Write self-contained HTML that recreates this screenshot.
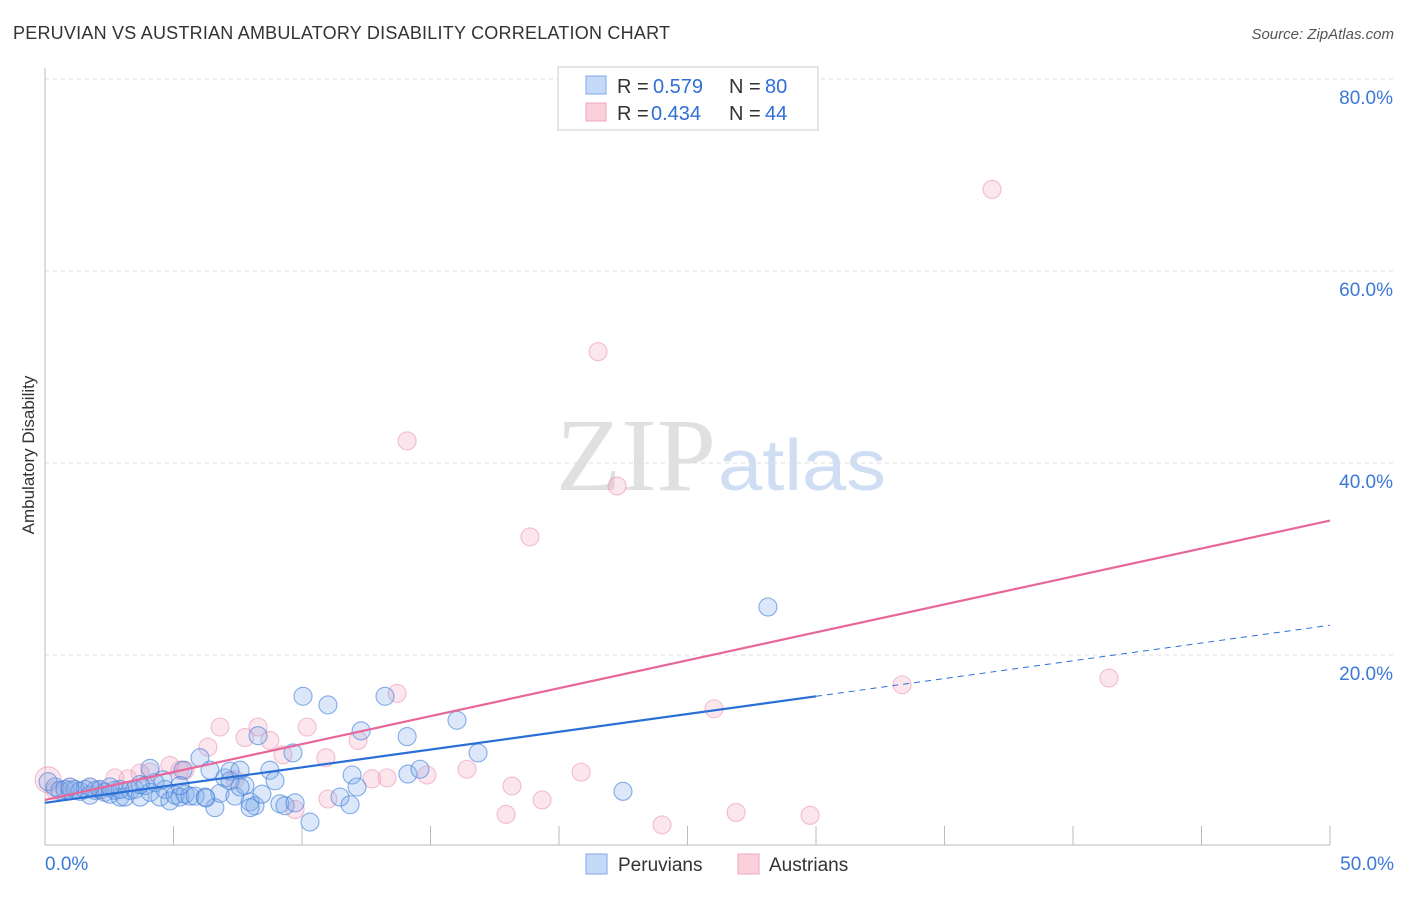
<!DOCTYPE html>
<html><head><meta charset="utf-8"><style>
body{margin:0;background:#fff;font-family:"Liberation Sans",sans-serif}
</style></head><body>
<svg id="chart" width="1406" height="892" xmlns="http://www.w3.org/2000/svg" font-family="Liberation Sans, sans-serif">
<text x="13" y="39" font-size="18" fill="#333" textLength="657" lengthAdjust="spacing">PERUVIAN VS AUSTRIAN AMBULATORY DISABILITY CORRELATION CHART</text>
<text x="1394" y="39" font-size="15" fill="#555" font-style="italic" text-anchor="end">Source: ZipAtlas.com</text>
<text x="716" y="490" font-size="104" text-anchor="end" fill="#e0e0e0" font-family="Liberation Serif, serif" textLength="160" lengthAdjust="spacingAndGlyphs">ZIP</text>
<text x="718" y="490" font-size="72" fill="#d0def4" textLength="168" lengthAdjust="spacingAndGlyphs">atlas</text>
<text transform="translate(34,455) rotate(-90)" font-size="17" fill="#333" text-anchor="middle">Ambulatory Disability</text>
<g id="grid"></g><g id="pts"></g><g id="lines"></g>
<g>
<rect x="558" y="67" width="260" height="63" fill="#fff" stroke="#ccc"/>
<rect x="586" y="76" width="20" height="18" fill="#c4d9f7" stroke="#7fa8e8"/>
<text x="617" y="93" font-size="20" fill="#333">R =</text>
<text x="653" y="93" font-size="20" fill="#2f6fd6">0.579</text>
<text x="729" y="93" font-size="20" fill="#333">N =</text>
<text x="765" y="93" font-size="20" fill="#2f6fd6">80</text>
<rect x="586" y="103" width="20" height="18" fill="#f9d0dc" stroke="#f0a7be"/>
<text x="617" y="120" font-size="20" fill="#333">R =</text>
<text x="651" y="120" font-size="20" fill="#2f6fd6">0.434</text>
<text x="729" y="120" font-size="20" fill="#333">N =</text>
<text x="765" y="120" font-size="20" fill="#2f6fd6">44</text>
</g>
<g>
<rect x="586" y="854" width="21" height="20" fill="#c4d9f7" stroke="#7fa8e8"/>
<text x="618" y="871" font-size="19" fill="#333">Peruvians</text>
<rect x="738" y="854" width="21" height="20" fill="#f9d0dc" stroke="#f0a7be"/>
<text x="769" y="871" font-size="19" fill="#333">Austrians</text>
</g>
</svg>
<script>
const xTicks=[0,5,10,15,20,25,30,35,40,45,50];
const yTicks=[20,40,60,80];
const peruX=[0.12,0.39,0.58,0.78,0.97,1.17,1.36,1.56,1.75,1.95,2.14,2.33,2.53,2.72,2.92,3.11,3.31,3.5,3.7,3.89,4.09,4.28,4.47,4.67,4.86,5.06,5.25,5.45,5.64,5.84,6.03,6.23,6.42,6.61,6.81,7.0,7.2,7.39,7.59,7.78,7.98,8.17,8.29,8.44,8.75,9.14,9.34,9.65,9.73,10.04,10.31,11.01,11.48,11.87,11.95,12.14,12.3,13.23,14.09,14.12,14.59,16.03,16.85,22.49,28.13,4.09,4.59,5.37,7.2,7.59,8.95,6.26,2.92,0.97,1.75,5.25,7.98,2.53,3.7];
const peruY=[6.8,6.25,5.9,6.0,5.9,6.0,5.8,6.0,5.4,5.9,6.0,5.7,5.5,5.9,5.2,5.2,5.9,6.0,5.2,6.4,5.7,6.7,5.2,6.0,4.8,5.4,5.2,5.5,5.3,5.3,9.3,5.2,8.0,4.1,5.6,7.2,7.9,5.3,8.0,6.4,4.7,4.3,11.6,5.5,8.0,4.5,4.3,9.8,4.6,15.7,2.6,14.8,5.2,4.4,7.5,6.25,12.1,15.7,11.5,7.6,8.1,13.2,9.8,5.8,25.0,8.2,7.0,8.0,6.9,6.25,6.9,5.1,6.0,6.25,6.25,6.4,4.1,6.25,6.5];
const ausX=[0.12,0.39,0.97,1.75,2.14,2.72,3.23,3.7,4.09,4.86,5.25,5.45,6.34,6.81,7.39,7.78,8.29,8.75,9.26,9.73,10.2,10.93,11.01,12.18,12.72,13.31,13.7,14.09,14.86,16.42,17.94,18.17,18.87,19.34,20.86,21.52,22.26,24.01,26.03,26.89,29.77,33.35,36.85,41.4];
const ausY=[7.0,5.9,6.25,6.25,5.9,7.2,7.1,7.7,7.8,8.5,8.0,8.0,10.4,12.5,7.0,11.4,12.5,11.1,9.6,3.9,12.5,9.3,5.0,11.1,7.1,7.2,16.0,42.3,7.5,8.1,3.4,6.35,32.3,4.9,7.8,51.6,37.6,2.3,14.4,3.6,3.3,16.9,68.5,17.6];
const peruTrend=[4.6,0.37];
const ausTrend=[4.9,0.582];
const peruSolidEnd=30;
const NS='http://www.w3.org/2000/svg';
const X0=45,X1=1330,Y0=847,YPX=9.6;
function sx(v){return X0+(v/50)*(X1-X0);}
function sy(v){return Y0-v*YPX;}
function mk(tag,attrs,parent){const e=document.createElementNS(NS,tag);for(const k in attrs)e.setAttribute(k,attrs[k]);parent.appendChild(e);return e;}
const grid=document.getElementById('grid');
for(const t of yTicks){
 const l=mk('line',{x1:45,x2:1394,y1:sy(t),y2:sy(t),stroke:'#ddd','stroke-dasharray':'4,4'},grid);
 
 
 const tx=mk('text',{x:1393,y:sy(t)+25,'font-size':19,fill:'#3b78d8','text-anchor':'end'},grid);
 tx.textContent=t.toFixed(1)+'%';
 
 
}
const ax=mk('line',{x1:45,x2:1330,y1:845,y2:845,stroke:'#bbb'},grid);


const ay=mk('line',{x1:45,x2:45,y1:68,y2:845,stroke:'#bbb'},grid);


for(const t of xTicks){
 if(t===0)continue;
 const l=mk('line',{x1:sx(t),x2:sx(t),y1:826,y2:845,stroke:'#bbb'},grid);
 
 
}
const xl0=mk('text',{x:45,y:870,'font-size':19,fill:'#3b78d8'},grid);xl0.textContent=xTicks[0].toFixed(1)+'%';


const xl1=mk('text',{x:1394,y:870,'font-size':19,fill:'#3b78d8','text-anchor':'end'},grid);xl1.textContent=xTicks[xTicks.length-1].toFixed(1)+'%';


const pts=document.getElementById('pts');
ausX.forEach((x,i)=>{
 const c=mk('circle',{cx:sx(x),cy:sy(ausY[i]),r:i===0?13:9,fill:'rgba(245,165,195,0.28)',stroke:'rgba(235,150,180,0.6)','stroke-width':1.1},pts);
 
 
});
peruX.forEach((x,i)=>{
 const c=mk('circle',{cx:sx(x),cy:sy(peruY[i]),r:9,fill:'rgba(130,172,235,0.28)',stroke:'rgba(70,130,220,0.65)','stroke-width':1.1},pts);
 
 
});
const lines=document.getElementById('lines');
const f=(tr,x)=>tr[0]+tr[1]*x;
const pl=mk('line',{x1:sx(0),y1:sy(f(ausTrend,0)),x2:sx(50),y2:sy(f(ausTrend,50)),stroke:'#e8679a','stroke-width':2.2},lines);


const bl=mk('line',{x1:sx(0),y1:sy(f(peruTrend,0)),x2:sx(peruSolidEnd),y2:sy(f(peruTrend,peruSolidEnd)),stroke:'#2a6fd6','stroke-width':2.2},lines);


const bd=mk('line',{x1:sx(peruSolidEnd),y1:sy(f(peruTrend,peruSolidEnd)),x2:sx(50),y2:sy(f(peruTrend,50)),stroke:'#2a6fd6','stroke-width':1,'stroke-dasharray':'6,5'},lines);


</script>
</body></html>
